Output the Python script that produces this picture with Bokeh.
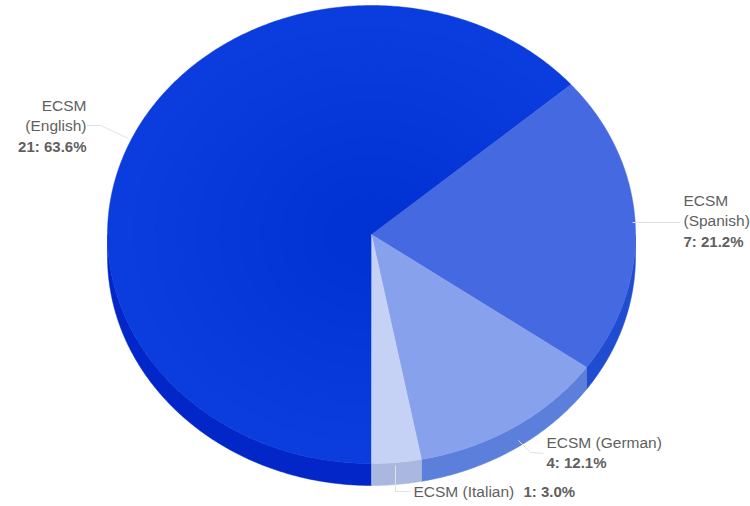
import math
from bokeh.plotting import figure
from bokeh.models import Range1d
from bokeh.core.properties import value
from bokeh.embed import file_html
from bokeh.resources import INLINE

categories = ["ECSM (English)", "ECSM (Spanish)", "ECSM (German)", "ECSM (Italian)"]
counts = [21, 7, 4, 1]
percent_labels = ["21: 63.6%", "7: 21.2%", "4: 12.1%", "1: 3.0%"]
top_colors = ["#0b3cdd", "#4469e0", "#88a1ed", "#c6d2f5"]
side_colors = ["#0226c8", "#1f4cd0", "#5c7fdc", "#aab8e0"]

CX, CY, RX, RY, DEPTH = 371, 234, 264, 229, 22
START_DEG = 180
SHADE_SCALES = [0.9, 0.82, 0.74, 0.66, 0.58, 0.5, 0.42, 0.34, 0.26, 0.18]


def pt(deg, extra=0.0, scale=1.0):
    a = math.radians(deg)
    return CX + scale * RX * math.sin(a), CY - scale * RY * math.cos(a) + extra


def arc(a0, a1, extra=0.0, scale=1.0):
    n = max(2, int(abs(a1 - a0)) * 2)
    return [pt(a0 + (a1 - a0) * i / n, extra, scale) for i in range(n + 1)]


p = figure(width=750, height=506, output_backend="svg", toolbar_location=None,
           x_range=Range1d(0, 750), y_range=Range1d(506, 0),
           min_border=0, outline_line_color=None)
p.axis.visible = False
p.grid.visible = False
p.background_fill_color = "white"
p.border_fill_color = "white"

total = sum(counts)
spans = []
angle = START_DEG
for c in counts:
    sweep = 360 * c / total
    spans.append((angle, angle + sweep))
    angle += sweep

for (a0, a1), col in zip(spans, side_colors):
    for shift in (0, 360):
        lo, hi = max(a0 - shift, 90), min(a1 - shift, 270)
        if hi > lo:
            pts = arc(lo, hi) + arc(hi, lo, DEPTH)
            p.patch([q[0] for q in pts], [q[1] for q in pts], fill_color=col, line_color=col, line_width=0.5)

for (a0, a1), col in zip(spans, top_colors):
    pts = [(CX, CY)] + arc(a0, a1)
    p.patch([q[0] for q in pts], [q[1] for q in pts], fill_color=col, line_color=col, line_width=0.5)

# soft darkening of the largest slice toward the middle of the disc
a0, a1 = spans[0]
for s in SHADE_SCALES:
    pts = [(CX, CY)] + arc(a0, a1, 0.0, s)
    p.patch([q[0] for q in pts], [q[1] for q in pts], fill_color="#0024b0", fill_alpha=0.03, line_color=None)

FONT = "Liberation Sans"
REG, BOLD = "15.5px", "15px"
TEXT = "#5f5f5f"
label_layout = [
    (86, "right", 105, [("ECSM", False), ("(English)", False), (percent_labels[0], True)]),
    (683, "left", 200, [("ECSM", False), ("(Spanish)", False), (percent_labels[1], True)]),
    (546, "left", 442, [("ECSM (German)", False), (percent_labels[2], True)]),
]
for x, align, y, lines in label_layout:
    for i, (txt, bold) in enumerate(lines):
        p.text([x], [y + i * 20.3], text=[txt], text_align=align, text_baseline="middle",
               text_font=value(FONT), text_font_size=BOLD if bold else REG,
               text_font_style="bold" if bold else "normal", text_color=TEXT)
p.text([413], [491], text=["ECSM (Italian)"], text_align="left", text_baseline="middle",
       text_font=value(FONT), text_font_size=REG, text_color=TEXT)
p.text([523], [491], text=[percent_labels[3]], text_align="left", text_baseline="middle",
       text_font=value(FONT), text_font_size=BOLD, text_font_style="bold", text_color=TEXT)

LEADER = "#e2e2e2"
p.line([86, 100, 128], [125, 125, 138], line_color=LEADER, line_width=1)
p.line([632, 680], [222, 222], line_color=LEADER, line_width=1)
p.line([518, 530, 543], [440, 452, 453], line_color=LEADER, line_width=1)
p.line([395, 395, 410], [465, 491, 491], line_color=LEADER, line_width=1)

open("out.html", "w").write(file_html(p, INLINE))
